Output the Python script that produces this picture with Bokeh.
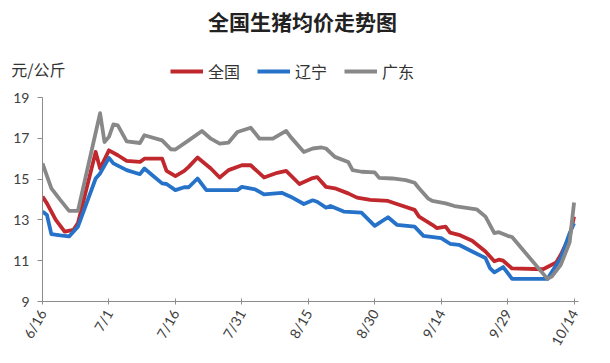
from bokeh.plotting import figure
from bokeh.layouts import column
from bokeh.models import Legend, LegendItem, Label, FixedTicker, Range1d, LinearAxis
from bokeh.embed import file_html
from bokeh.resources import INLINE

# ---- data (day offsets from 6/16) ----
tick_days = [0, 15, 30, 45, 60, 75, 90, 105, 120]
tick_labels = ["6/16", "7/1", "7/16", "7/31", "8/15", "8/30", "9/14", "9/29", "10/14"]
y_ticks = [9, 11, 13, 15, 17, 19]

national_days = [0, 1, 3, 5, 7, 8, 12, 13, 15, 17, 19, 22, 23, 27, 28, 30, 32, 33, 35, 38, 40, 42, 45, 47,
                 50, 53, 55, 58, 61, 62, 64, 66, 69, 71, 74, 78, 80, 84, 85, 88, 89, 91, 92, 94, 97, 100,
                 102, 103, 104, 106, 113, 116, 117, 119, 120]
national_vals = [14.14, 13.81, 13.0, 12.43, 12.51, 12.84, 16.33, 15.52, 16.41, 16.17, 15.89, 15.84, 16.0,
                 16.0, 15.4, 15.15, 15.4, 15.6, 16.06, 15.52, 15.08, 15.44, 15.68, 15.68, 15.08, 15.31,
                 15.4, 14.76, 15.05, 15.1, 14.62, 14.55, 14.3, 14.09, 13.98, 13.93, 13.78, 13.49, 13.16,
                 12.76, 12.6, 12.67, 12.38, 12.27, 11.98, 11.45, 10.97, 11.05, 11.0, 10.62, 10.58, 10.92,
                 11.29, 12.19, 13.16]

liaoning_days = [0, 1, 2, 4, 6, 8, 12, 13, 15, 16, 19, 22, 23, 25, 27, 28, 30, 32, 33, 35, 37, 44, 45, 48,
                 50, 54, 56, 59, 61, 62, 64, 65, 68, 72, 75, 78, 80, 84, 86, 90, 92, 94, 97, 100, 101,
                 102, 104, 105, 106, 114, 117, 119, 120]
liaoning_vals = [13.41, 13.24, 12.30, 12.24, 12.19, 12.67, 15.03, 15.28, 16.04, 15.77, 15.44, 15.24, 15.52,
                 15.15, 14.79, 14.76, 14.46, 14.6, 14.6, 15.03, 14.46, 14.46, 14.62, 14.5, 14.25, 14.33,
                 14.14, 13.78, 13.96, 13.89, 13.6, 13.68, 13.41, 13.36, 12.71, 13.13, 12.76, 12.67, 12.22,
                 12.11, 11.83, 11.78, 11.45, 11.13, 10.64, 10.43, 10.69, 10.40, 10.11, 10.11, 11.13, 12.35,
                 12.84]

guangdong_days = [0, 2, 4, 6, 8, 13, 14, 15, 16, 17, 19, 22, 23, 27, 29, 30, 33, 36, 38, 40, 42, 44, 47, 49,
                  52, 55, 56, 59, 61, 63, 64, 66, 69, 70, 72, 75, 76, 79, 82, 84, 85, 87, 88, 91, 93, 98,
                  100, 102, 103, 105, 106, 114, 115, 117, 119, 120]
guangdong_vals = [15.77, 14.55, 13.98, 13.44, 13.44, 18.23, 16.82, 17.07, 17.68, 17.63, 16.85, 16.77, 17.15,
                  16.9, 16.46, 16.45, 16.9, 17.36, 16.98, 16.74, 16.79, 17.31, 17.52, 16.98, 16.98, 17.36,
                  17.07, 16.33, 16.5, 16.55, 16.5, 16.09, 15.84, 15.44, 15.36, 15.33, 15.06, 15.03, 14.95,
                  14.82, 14.55, 14.06, 13.93, 13.81, 13.68, 13.52, 13.16, 12.35, 12.4, 12.22, 12.16, 10.11,
                  10.23, 10.8, 11.9, 13.85]

series_names = ["全国", "辽宁", "广东"]
chart_title = "全国生猪均价走势图"
unit_label = "元/公斤"

RED = "#C0282D"
BLUE = "#2672C8"
GRAY = "#888888"
AXIS = "#8c8c8c"
FONT = "Lato"
CJK = "Noto Sans CJK SC"
LW = 3.8
W = 602
HEAD_H = 89
B_LEFT, B_RIGHT = 42, 24
UNIT_Y = 21

# ---- header: title, unit label and legend (header x coords = page pixels) ----
head = figure(width=W, height=HEAD_H, output_backend="svg", toolbar_location=None,
              x_range=Range1d(B_LEFT, W - B_RIGHT), y_range=Range1d(0, HEAD_H),
              min_border_left=B_LEFT, min_border_right=B_RIGHT, min_border_top=0, min_border_bottom=0,
              x_axis_type=None, y_axis_type=None)
head.outline_line_color = None
head.xgrid.visible = False
head.ygrid.visible = False
head.add_layout(Label(x=302, y=69, text=chart_title, text_align="center", text_baseline="middle",
                      text_font=CJK, text_font_size="21px", text_font_style="bold",
                      text_color="#222222"))
# unit label drawn as the only tick label of a bare left axis (side panel, not clipped)
unit_axis = LinearAxis(ticker=FixedTicker(ticks=[UNIT_Y]),
                       major_label_overrides={UNIT_Y: unit_label},
                       axis_line_color=None, major_tick_line_color=None, minor_tick_line_color=None,
                       major_tick_in=0, major_tick_out=0, major_label_standoff=-23,
                       major_label_text_font=CJK, major_label_text_font_size="16px",
                       major_label_text_color="#333333")
head.add_layout(unit_axis, "left")
# legend swatches: single-point (invisible) lines so only the legend glyph shows
lines = []
for c, dd, vv in ((RED, national_days, national_vals), (BLUE, liaoning_days, liaoning_vals),
                  (GRAY, guangdong_days, guangdong_vals)):
    lines.append(head.line(dd[:1], vv[:1], line_color=c, line_width=LW))
legend = Legend(items=[LegendItem(label=n, renderers=[r]) for n, r in zip(series_names, lines)],
                orientation="horizontal", location=(170 - B_LEFT, 6),
                glyph_width=33, glyph_height=20, label_standoff=5, spacing=17,
                padding=0, margin=0, border_line_color=None, background_fill_alpha=0,
                label_text_font=CJK, label_text_font_size="16px", label_text_color="#333333")
head.add_layout(legend)

# ---- main chart ----
p = figure(width=W, height=266, output_backend="svg", toolbar_location=None,
           x_range=Range1d(0, 121), y_range=Range1d(9, 19),
           min_border_left=B_LEFT, min_border_right=B_RIGHT, min_border_top=8, min_border_bottom=53)
p.outline_line_color = None
p.xgrid.visible = False
p.ygrid.visible = False

p.line(national_days, national_vals, line_color=RED, line_width=LW, line_join="round")
p.line(liaoning_days, liaoning_vals, line_color=BLUE, line_width=LW, line_join="round")
p.line(guangdong_days, guangdong_vals, line_color=GRAY, line_width=LW, line_join="round")

p.xaxis.ticker = FixedTicker(ticks=tick_days)
p.xaxis.major_label_overrides = {d: t for d, t in zip(tick_days, tick_labels)}
p.xaxis.major_label_orientation = 1.05
p.yaxis.ticker = FixedTicker(ticks=y_ticks)
for ax in (p.xaxis, p.yaxis):
    ax.axis_line_color = AXIS
    ax.major_tick_line_color = AXIS
    ax.minor_tick_line_color = None
    ax.major_label_text_font = FONT
    ax.major_label_text_font_size = "14px"
    ax.major_label_text_color = "#404040"
p.xaxis.major_tick_in = 3
p.xaxis.major_tick_out = 3
p.xaxis.major_label_standoff = 6
p.yaxis.major_tick_in = 0
p.yaxis.major_tick_out = 5
p.yaxis.major_label_standoff = 8

layout = column(head, p, spacing=0)
open("out.html", "w").write(file_html(layout, INLINE))
